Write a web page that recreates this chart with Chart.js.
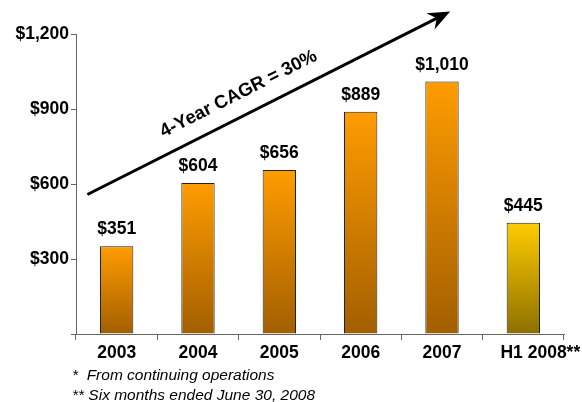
<!DOCTYPE html>
<html>
<head>
<meta charset="utf-8">
<script src="https://cdn.jsdelivr.net/npm/chart.js@4/dist/chart.umd.min.js"></script>
<style>
  body { margin: 0; background: #fff; }
  #wrap { position: relative; width: 582px; height: 402px; overflow: hidden; }
  .note { position: absolute; left: 72px; font: italic 15.5px "Liberation Sans", Arial, sans-serif; color: #000; white-space: pre; line-height: 18px; }
</style>
</head>
<body>
<div id="wrap">
  <canvas id="myChart" width="582" height="402"></canvas>
  <div class="note" style="top:366px">*  From continuing operations</div>
  <div class="note" style="top:386px">** Six months ended June 30, 2008</div>
</div>
<script>
const categories = ['2003', '2004', '2005', '2006', '2007', 'H1 2008**'];
const revenue = [351, 604, 656, 889, 1010, 445];
const yTicks = [0, 300, 600, 900, 1200];
const topColors = ['#ff9c00', '#ff9c00', '#ff9c00', '#ff9c00', '#ff9c00', '#ffcc00'];
const bottomColors = ['#a25f00', '#a25f00', '#a25f00', '#a25f00', '#a25f00', '#8c7000'];
const cagrText = '4-Year CAGR = 30%';

const FONT = '"Liberation Sans", Arial, sans-serif';

function barGradient(ctx) {
    const chart = ctx.chart;
    if (!chart.chartArea) return topColors[ctx.dataIndex];
    const y = chart.scales.y;
    const top = y.getPixelForValue(ctx.raw);
    const bottom = y.getPixelForValue(0);
    const g = chart.ctx.createLinearGradient(0, top, 0, bottom);
    g.addColorStop(0, topColors[ctx.dataIndex]);
    g.addColorStop(1, bottomColors[ctx.dataIndex]);
    return g;
}

// value labels over the bars
const valueLabels = {
    id: 'valueLabels',
    afterDatasetsDraw(chart) {
        const c = chart.ctx;
        const meta = chart.getDatasetMeta(0);
        c.save();
        c.font = 'bold 17.5px ' + FONT;
        c.fillStyle = '#000';
        c.textAlign = 'center';
        c.textBaseline = 'bottom';
        meta.data.forEach((bar, i) => {
            c.fillText('$' + revenue[i].toLocaleString('en-US'), bar.x, bar.y - 8);
        });
        c.restore();
    }
};

// growth arrow with its caption
const cagrArrow = {
    id: 'cagrArrow',
    afterDraw(chart) {
        const x = chart.scales.x, y = chart.scales.y;
        const x0 = x.getPixelForValue(-0.36), y0 = y.getPixelForValue(558);
        const x1 = x.getPixelForValue(4.1), y1 = y.getPixelForValue(1290);
        const ang = Math.atan2(y1 - y0, x1 - x0);
        const c = chart.ctx;
        c.save();
        c.strokeStyle = '#000';
        c.lineWidth = 3;
        c.beginPath();
        c.moveTo(x0, y0);
        c.lineTo(x1 - 8 * Math.cos(ang), y1 - 8 * Math.sin(ang));
        c.stroke();
        // notched head
        c.translate(x1, y1);
        c.rotate(ang);
        c.fillStyle = '#000';
        c.beginPath();
        c.moveTo(0, 0);
        c.lineTo(-22, -9);
        c.lineTo(-15, 0);
        c.lineTo(-22, 9);
        c.closePath();
        c.fill();
        c.restore();

        c.save();
        const mx = x.getPixelForValue(1.5), my = y.getPixelForValue(960);
        c.translate(mx, my);
        c.rotate(ang);
        c.font = 'bold 18.5px ' + FONT;
        c.fillStyle = '#000';
        c.textAlign = 'center';
        c.textBaseline = 'middle';
        c.fillText(cagrText, 0, 0);
        c.restore();
    }
};

const data = {
    labels: categories,
    datasets: [{
        data: revenue,
        backgroundColor: barGradient,
        borderColor: '#222',
        borderWidth: 1,
        borderSkipped: 'bottom',
        categoryPercentage: 1,
        barPercentage: 0.41
    }]
};

const config = {
    type: 'bar',
    data: data,
    options: {
        responsive: false,
        animation: false,
        layout: { padding: { top: 34, right: 18, bottom: 35, left: 0 } },
        plugins: {
            legend: { display: false },
            tooltip: { enabled: false }
        },
        scales: {
            x: {
                afterFit: (s) => { s.paddingLeft = 0; s.paddingRight = 0; },
                grid: {
                    offset: true,
                    drawOnChartArea: false,
                    tickLength: 6,
                    color: '#666'
                },
                border: { color: '#666', width: 1 },
                ticks: {
                    color: '#000',
                    font: { family: FONT, size: 17.5, weight: 'bold' },
                    padding: 3,
                    autoSkip: false,
                    maxRotation: 0,
                    callback: (v, i) => i === categories.length - 1 ? '       ' + categories[i] : categories[i]
                }
            },
            y: {
                min: 0,
                max: 1200,
                afterBuildTicks: (s) => { s.ticks = yTicks.map(v => ({ value: v })); },
                afterFit: (s) => { s.width = 76; },
                grid: {
                    drawOnChartArea: false,
                    tickLength: 5,
                    color: '#666'
                },
                border: { color: '#666', width: 1 },
                ticks: {
                    color: '#000',
                    padding: 2,
                    font: { family: FONT, size: 17.5, weight: 'bold' },
                    callback: (v) => v === 0 ? '' : '$' + v.toLocaleString('en-US')
                }
            }
        }
    },
    plugins: [valueLabels, cagrArrow]
};

const myChart = new Chart(document.getElementById('myChart'), config);
</script>
</body>
</html>
